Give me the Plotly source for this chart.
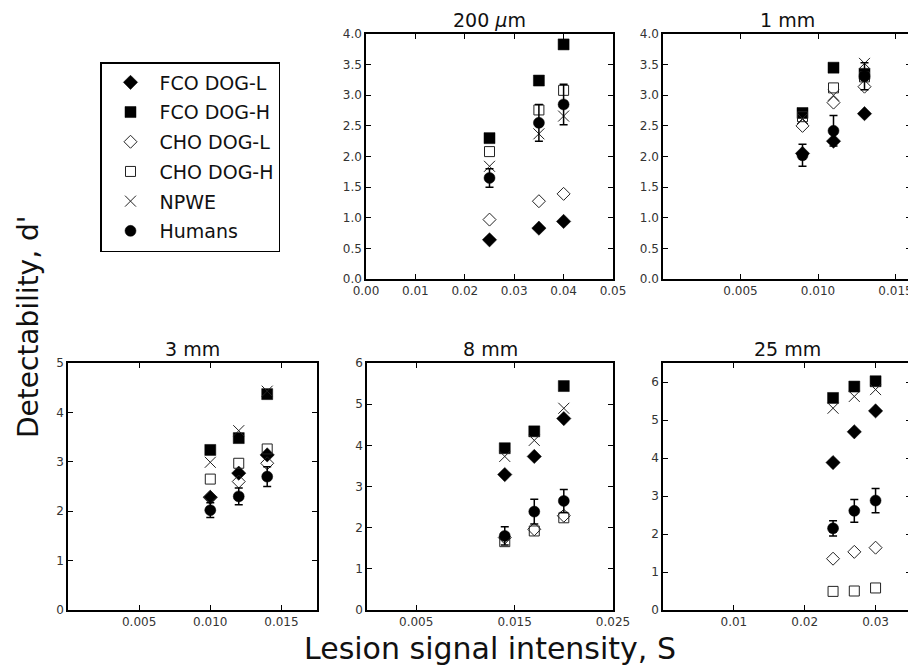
import plotly.graph_objects as go

# ---------------- data ----------------
panel_titles = ["200 <i>μ</i>m", "1 mm", "3 mm", "8 mm", "25 mm"]

# lesion signal intensity S for each panel
s_values = [
    [0.025, 0.035, 0.040],
    [0.009, 0.011, 0.013],
    [0.010, 0.012, 0.014],
    [0.014, 0.017, 0.020],
    [0.024, 0.027, 0.030],
]

fco_dog_l = [
    [0.64, 0.83, 0.94],
    [2.05, 2.25, 2.70],
    [2.28, 2.77, 3.14],
    [3.29, 3.73, 4.65],
    [3.88, 4.69, 5.24],
]
fco_dog_h = [
    [2.30, 3.24, 3.83],
    [2.71, 3.45, 3.35],
    [3.24, 3.48, 4.37],
    [3.93, 4.34, 5.44],
    [5.58, 5.88, 6.02],
]
cho_dog_l = [
    [0.97, 1.27, 1.39],
    [2.50, 2.88, 3.14],
    [2.29, 2.60, 2.97],
    [1.76, 1.96, 2.29],
    [1.35, 1.53, 1.64],
]
cho_dog_h = [
    [2.08, 2.76, 3.08],
    [2.65, 3.12, 3.30],
    [2.65, 2.97, 3.26],
    [1.66, 1.92, 2.24],
    [0.49, 0.50, 0.58],
]
npwe = [
    [1.84, 2.37, 2.66],
    [2.62, 3.00, 3.52],
    [2.99, 3.63, 4.43],
    [3.73, 4.12, 4.90],
    [5.31, 5.62, 5.80],
]
humans = [
    [1.65, 2.55, 2.85],
    [2.02, 2.42, 3.31],
    [2.02, 2.30, 2.70],
    [1.80, 2.39, 2.65],
    [2.15, 2.61, 2.88],
]
humans_err = [
    [0.15, 0.30, 0.33],
    [0.18, 0.25, 0.22],
    [0.15, 0.17, 0.20],
    [0.22, 0.30, 0.28],
    [0.20, 0.30, 0.32],
]

series_names = ["FCO DOG-L", "FCO DOG-H", "CHO DOG-L", "CHO DOG-H", "NPWE", "Humans"]

# axis settings per panel
x_ranges = [[0, 0.05], [0, 0.016], [0, 0.0175], [0, 0.025], [0, 0.035]]
x_ticks = [
    [0.0, 0.01, 0.02, 0.03, 0.04, 0.05],
    [0.005, 0.010, 0.015],
    [0.005, 0.010, 0.015],
    [0.005, 0.015, 0.025],
    [0.01, 0.02, 0.03],
]
x_formats = [".2f", ".3f", ".3f", ".3f", ".2f"]
y_ranges = [[0, 4], [0, 4], [0, 5], [0, 6], [0, 6.5]]
y_ticks = [
    [0, 0.5, 1, 1.5, 2, 2.5, 3, 3.5, 4],
    [0, 0.5, 1, 1.5, 2, 2.5, 3, 3.5, 4],
    [0, 1, 2, 3, 4, 5],
    [0, 1, 2, 3, 4, 5, 6],
    [0, 1, 2, 3, 4, 5, 6],
]
y_formats = [".1f", ".1f", "d", "d", "d"]

# ---------------- layout geometry ----------------
# The page places the figure 8 px in from the top-left corner (default body
# margin), so the figure is sized to fill the rest of the 916x666 window and
# the positions below (window pixels) are shifted accordingly.
OFF = 8
W, H = 916 - OFF, 666 - OFF


def px_x(x):
    return (x - OFF) / W


def px_y(y):
    return 1 - (y - OFF) / H


boxes_px = [  # left, right, top, bottom (window pixels)
    (366, 613, 34, 279),
    (663, 911, 34, 279),
    (68, 317, 363, 610),
    (367, 613, 363, 610),
    (663, 911, 363, 610),
]

FONT = "DejaVu Sans"
fig = go.Figure()

styles = {
    "FCO DOG-L": dict(symbol="diamond", size=11, color="black", line=dict(color="black", width=0.5)),
    "FCO DOG-H": dict(symbol="square", size=11, color="black", line=dict(color="black", width=0.5)),
    "CHO DOG-L": dict(symbol="diamond-open", size=10, color="#222", line=dict(color="#222", width=1)),
    "CHO DOG-H": dict(symbol="square-open", size=10, color="#222", line=dict(color="#222", width=1)),
    "NPWE": dict(symbol="x-thin-open", size=11, color="#222", line=dict(color="#222", width=1)),
    "Humans": dict(symbol="circle", size=11, color="black", line=dict(color="black", width=0.5)),
}
data_sets = {
    "FCO DOG-L": fco_dog_l,
    "FCO DOG-H": fco_dog_h,
    "CHO DOG-L": cho_dog_l,
    "CHO DOG-H": cho_dog_h,
    "NPWE": npwe,
}

for i in range(5):
    ax = "" if i == 0 else str(i + 1)
    for name in series_names:
        kw = dict(
            x=s_values[i],
            mode="markers",
            name=name,
            legendgroup=name,
            showlegend=(i == 0),
            marker=styles[name],
            xaxis="x" + ax,
            yaxis="y" + ax,
        )
        if name == "Humans":
            kw["y"] = humans[i]
            kw["error_y"] = dict(type="data", array=humans_err[i], visible=True,
                                 color="black", thickness=1.5, width=4)
        else:
            kw["y"] = data_sets[name][i]
        fig.add_trace(go.Scatter(**kw))

layout = dict(
    width=W, height=H,
    margin=dict(l=0, r=0, t=0, b=0, pad=0, autoexpand=False),
    paper_bgcolor="white", plot_bgcolor="white",
    font=dict(family=FONT, color="#222"),
    showlegend=True,
    legend=dict(
        x=px_x(100), y=px_y(62), xanchor="left", yanchor="top",
        bordercolor="black", borderwidth=1.5, bgcolor="white",
        font=dict(family=FONT, size=19, color="#111"),
        tracegroupgap=2, itemwidth=48,
    ),
)

annotations = []
for i, (l, r, t, b) in enumerate(boxes_px):
    ax = "" if i == 0 else str(i + 1)
    common = dict(
        showline=True, linecolor="black", linewidth=1.5, mirror="ticks",
        ticks="inside", ticklen=5, tickwidth=1, tickcolor="black",
        showgrid=False, zeroline=False, automargin=False,
        tickfont=dict(family=FONT, size=12, color="#333"),
    )
    layout["xaxis" + ax] = dict(
        domain=[px_x(l), px_x(r)], anchor="y" + ax, range=x_ranges[i],
        tickvals=x_ticks[i], tickformat=x_formats[i], **common,
    )
    layout["yaxis" + ax] = dict(
        domain=[px_y(b), px_y(t)], anchor="x" + ax, range=y_ranges[i],
        tickvals=y_ticks[i], tickformat=y_formats[i], **common,
    )
    annotations.append(dict(
        text=panel_titles[i], x=px_x((l + r) / 2), y=px_y(t - 1),
        xref="paper", yref="paper", xanchor="center", yanchor="bottom",
        showarrow=False, font=dict(family=FONT, size=19, color="#111"),
    ))

annotations.append(dict(
    text="Lesion signal intensity, S", x=px_x(490), y=px_y(648),
    xref="paper", yref="paper", xanchor="center", yanchor="middle",
    showarrow=False, font=dict(family=FONT, size=30, color="#111"),
))
annotations.append(dict(
    text="Detectability, d'", x=px_x(28), y=px_y(327), textangle=-90,
    xref="paper", yref="paper", xanchor="center", yanchor="middle",
    showarrow=False, font=dict(family=FONT, size=28, color="#111"),
))
layout["annotations"] = annotations

fig.update_layout(**layout)
fig.write_html("out.html")
